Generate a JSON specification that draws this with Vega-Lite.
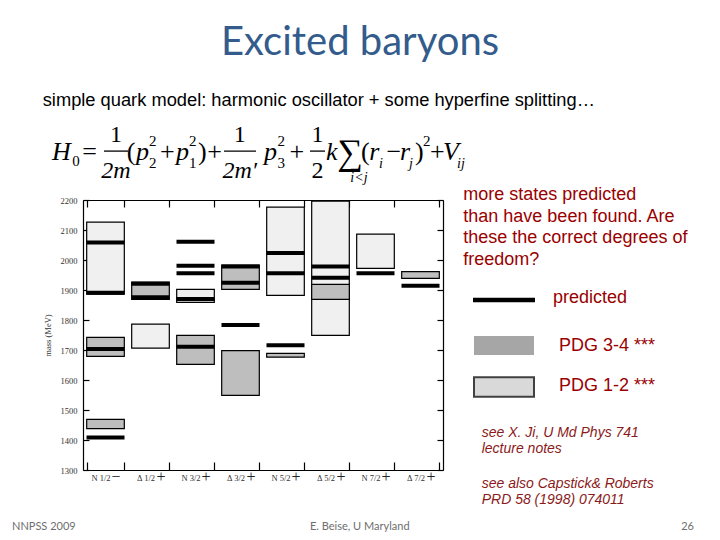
{
  "$schema": "https://vega.github.io/schema/vega-lite/v6.json",
  "width": 360,
  "height": 270,
  "autosize": {"type": "none"},
  "padding": {"left": 83, "top": 200, "right": 277, "bottom": 70},
  "background": "white",
  "config": {
    "view": {"stroke": null},
    "axis": {
      "domainColor": "black", "tickColor": "black", "domainWidth": 1.2, "tickWidth": 1.2,
      "grid": false, "labelFont": "Liberation Serif", "labelFontSize": 8.5, "labelColor": "#333333",
      "titleFont": "Liberation Serif", "titleFontSize": 8.5, "titleFontWeight": "normal", "titleColor": "#333333"
    }
  },
  "datasets": {
    "boxes": [
      {"cat": "N 1/2", "lo": 1886, "hi": 2126, "type": "PDG 1-2 ***"},
      {"cat": "N 1/2", "lo": 1679, "hi": 1742, "type": "PDG 3-4 ***"},
      {"cat": "N 1/2", "lo": 1438, "hi": 1469, "type": "PDG 3-4 ***"},
      {"cat": "Δ 1/2", "lo": 1869, "hi": 1926, "type": "PDG 3-4 ***"},
      {"cat": "Δ 1/2", "lo": 1706, "hi": 1786, "type": "PDG 1-2 ***"},
      {"cat": "N 3/2", "lo": 1859, "hi": 1902, "type": "PDG 1-2 ***"},
      {"cat": "N 3/2", "lo": 1652, "hi": 1749, "type": "PDG 3-4 ***"},
      {"cat": "Δ 3/2", "lo": 1902, "hi": 1983, "type": "PDG 3-4 ***"},
      {"cat": "Δ 3/2", "lo": 1549, "hi": 1698, "type": "PDG 3-4 ***"},
      {"cat": "N 5/2", "lo": 1882, "hi": 2176, "type": "PDG 1-2 ***"},
      {"cat": "N 5/2", "lo": 1676, "hi": 1689, "type": "PDG 3-4 ***"},
      {"cat": "Δ 5/2", "lo": 1749, "hi": 2196, "type": "PDG 1-2 ***"},
      {"cat": "Δ 5/2", "lo": 1869, "hi": 1919, "type": "PDG 3-4 ***"},
      {"cat": "N 7/2", "lo": 1972, "hi": 2086, "type": "PDG 1-2 ***"},
      {"cat": "Δ 7/2", "lo": 1939, "hi": 1961, "type": "PDG 3-4 ***"}
    ],
    "predicted": [
      {"cat": "N 1/2", "mass": 2058},
      {"cat": "N 1/2", "mass": 1891},
      {"cat": "N 1/2", "mass": 1703},
      {"cat": "N 1/2", "mass": 1408},
      {"cat": "Δ 1/2", "mass": 1921},
      {"cat": "Δ 1/2", "mass": 1876},
      {"cat": "N 3/2", "mass": 2061},
      {"cat": "N 3/2", "mass": 1981},
      {"cat": "N 3/2", "mass": 1956},
      {"cat": "N 3/2", "mass": 1870},
      {"cat": "N 3/2", "mass": 1711},
      {"cat": "Δ 3/2", "mass": 1978},
      {"cat": "Δ 3/2", "mass": 1924},
      {"cat": "Δ 3/2", "mass": 1783},
      {"cat": "N 5/2", "mass": 2023},
      {"cat": "N 5/2", "mass": 1956},
      {"cat": "N 5/2", "mass": 1716},
      {"cat": "Δ 5/2", "mass": 1978},
      {"cat": "Δ 5/2", "mass": 1941},
      {"cat": "N 7/2", "mass": 1956},
      {"cat": "Δ 7/2", "mass": 1914}
    ],
    "labels": [
      {"cat": "N 1/2", "sign": "−", "spos": 1278, "lpos": 1263},
      {"cat": "Δ 1/2", "sign": "+", "spos": 1278, "lpos": 1263},
      {"cat": "N 3/2", "sign": "+", "spos": 1278, "lpos": 1263},
      {"cat": "Δ 3/2", "sign": "+", "spos": 1278, "lpos": 1263},
      {"cat": "N 5/2", "sign": "+", "spos": 1278, "lpos": 1263},
      {"cat": "Δ 5/2", "sign": "+", "spos": 1278, "lpos": 1263},
      {"cat": "N 7/2", "sign": "+", "spos": 1278, "lpos": 1263},
      {"cat": "Δ 7/2", "sign": "+", "spos": 1278, "lpos": 1263}
    ]
  },
  "resolve": {"scale": {"x": "independent"}, "axis": {"x": "independent", "y": "independent"}},
  "layer": [
    {
      "data": {"name": "boxes"},
      "mark": {"type": "rect", "stroke": "black", "strokeWidth": 1.2},
      "encoding": {
        "x": {
          "field": "cat", "type": "nominal", "sort": null,
          "scale": {"domain": ["N 1/2", "Δ 1/2", "N 3/2", "Δ 3/2", "N 5/2", "Δ 5/2", "N 7/2", "Δ 7/2"], "paddingInner": 0.164, "paddingOuter": 0.082},
          "axis": {"orient": "bottom", "title": null, "tickBand": "extent", "tickSize": -8, "labels": false}
        },
        "y": {
          "field": "lo", "type": "quantitative",
          "scale": {"domain": [1300, 2200], "nice": false, "zero": false},
          "axis": {"orient": "left", "title": "mass (MeV)", "values": [1300, 1400, 1500, 1600, 1700, 1800, 1900, 2000, 2100, 2200], "format": "d", "labelOverlap": false, "labelBound": false, "tickSize": -6, "labelPadding": 12, "titlePadding": 8}
        },
        "y2": {"field": "hi"},
        "color": {
          "field": "type", "type": "nominal",
          "scale": {"domain": ["PDG 3-4 ***", "PDG 1-2 ***"], "range": ["#BEBEBE", "#F0F0F0"]},
          "legend": null
        }
      }
    },
    {
      "data": {"name": "predicted"},
      "mark": {"type": "tick", "thickness": 4, "size": 38, "color": "#000000", "opacity": 1},
      "encoding": {
        "x": {
          "field": "cat", "type": "nominal", "sort": null,
          "scale": {"domain": ["N 1/2", "Δ 1/2", "N 3/2", "Δ 3/2", "N 5/2", "Δ 5/2", "N 7/2", "Δ 7/2"], "paddingInner": 0.164, "paddingOuter": 0.082},
          "axis": {"orient": "top", "title": null, "labels": false, "tickBand": "extent", "tickSize": -7}
        },
        "y": {
          "field": "mass", "type": "quantitative",
          "scale": {"domain": [1300, 2200], "nice": false, "zero": false},
          "axis": {"orient": "right", "title": null, "labels": false, "values": [1300, 1400, 1500, 1600, 1700, 1800, 1900, 2000, 2100, 2200], "tickSize": -6}
        }
      }
    },
    {
      "data": {"name": "labels"},
      "encoding": {
        "x": {"field": "cat", "type": "nominal", "sort": null, "axis": null,
          "scale": {"domain": ["N 1/2", "Δ 1/2", "N 3/2", "Δ 3/2", "N 5/2", "Δ 5/2", "N 7/2", "Δ 7/2"], "paddingInner": 0.164, "paddingOuter": 0.082}}
      },
      "layer": [
        {
          "mark": {"type": "text", "font": "Liberation Serif", "fontSize": 16, "dx": 10.5, "baseline": "middle", "align": "center", "color": "#222222"},
          "encoding": {
            "y": {"field": "spos", "type": "quantitative", "axis": null, "scale": {"domain": [1300, 2200], "nice": false, "zero": false}},
            "text": {"field": "sign"}
          }
        },
        {
          "mark": {"type": "text", "font": "Liberation Serif", "fontSize": 8.5, "dx": -4.5, "baseline": "alphabetic", "align": "center", "color": "#333333"},
          "encoding": {
            "y": {"field": "lpos", "type": "quantitative", "axis": null, "scale": {"domain": [1300, 2200], "nice": false, "zero": false}},
            "text": {"field": "cat"}
          }
        }
      ]
    },
    {
      "encoding": {
        "x": {"field": "x", "type": "quantitative", "scale": {"domain": [0, 8], "nice": false, "zero": false}, "axis": null},
        "y": {"field": "y", "type": "quantitative", "scale": {"domain": [1300, 2200], "nice": false, "zero": false}, "axis": null},
        "text": {"field": "t"}
      },
      "layer": [
        {
          "data": {"values": [{"t": "Excited baryons", "x": 6.156, "y": 2683}]},
          "mark": {"type": "text", "font": "Lato", "fontSize": 40, "align": "center", "baseline": "alphabetic", "color": "#335C8C"}
        },
        {
          "data": {"values": [{"t": "simple quark model: harmonic oscillator + some hyperfine splitting…", "x": -0.8956, "y": 2513}]},
          "mark": {"type": "text", "font": "Liberation Sans", "fontSize": 18.3, "align": "left", "baseline": "alphabetic", "color": "#000000"}
        },
        {
          "data": {"values": [{"t": ["more states predicted", "than have been found. Are", "these the correct degrees of", "freedom?"], "x": 8.451, "y": 2200}]},
          "mark": {"type": "text", "font": "Liberation Sans", "fontSize": 18, "lineHeight": 21.7, "align": "left", "baseline": "alphabetic", "color": "#990000"}
        },
        {
          "data": {"values": [
            {"t": "predicted", "x": 10.444, "y": 1857},
            {"t": "PDG 3-4 ***", "x": 10.578, "y": 1697},
            {"t": "PDG 1-2 ***", "x": 10.578, "y": 1563}
          ]},
          "mark": {"type": "text", "font": "Liberation Sans", "fontSize": 18, "align": "left", "baseline": "alphabetic", "color": "#990000"}
        },
        {
          "data": {"values": [{"x": 8.667, "x2": 10.044, "y": 1866.7}]},
          "mark": {"type": "rule", "color": "#000000", "strokeWidth": 4.5},
          "encoding": {"x2": {"field": "x2"}, "text": null}
        },
        {
          "data": {"values": [{"x": 8.689, "x2": 10.022, "y": 1746.7, "y2": 1683.3}]},
          "mark": {"type": "rect", "fill": "#A6A6A6"},
          "encoding": {"x2": {"field": "x2"}, "y2": {"field": "y2"}, "text": null}
        },
        {
          "data": {"values": [{"x": 8.689, "x2": 10.022, "y": 1609, "y2": 1544.3}]},
          "mark": {"type": "rect", "fill": "#D9D9D9", "stroke": "#404040", "strokeWidth": 2},
          "encoding": {"x2": {"field": "x2"}, "y2": {"field": "y2"}, "text": null}
        },
        {
          "data": {"values": [
            {"t": ["see X. Ji, U Md Phys 741", "lecture notes"], "x": 8.86, "y": 1411},
            {"t": ["see also Capstick& Roberts", "PRD 58 (1998) 074011"], "x": 8.86, "y": 1241}
          ]},
          "mark": {"type": "text", "font": "Liberation Sans", "fontSize": 14, "fontStyle": "italic", "lineHeight": 16, "align": "left", "baseline": "alphabetic", "color": "#8B1A1A"}
        },
        {
          "data": {"values": [
            {"t": "NNPSS 2009", "x": -1.578, "y": 1100},
            {"t": "E. Beise, U Maryland", "x": 5.044, "y": 1100}
          ]},
          "mark": {"type": "text", "font": "Lato", "fontSize": 11, "align": "left", "baseline": "alphabetic", "color": "#6E6E6E"}
        },
        {
          "data": {"values": [{"t": "26", "x": 13.578, "y": 1100}]},
          "mark": {"type": "text", "font": "Lato", "fontSize": 11, "align": "right", "baseline": "alphabetic", "color": "#6E6E6E"}
        },
        {
          "data": {"values": [
            {"t": "H", "x": -0.689, "y": 2333},
            {"t": "p", "x": 1.178, "y": 2333},
            {"t": "p", "x": 2.067, "y": 2333},
            {"t": "p", "x": 4.02, "y": 2333},
            {"t": "k", "x": 5.398, "y": 2333},
            {"t": "r", "x": 6.36, "y": 2333},
            {"t": "r", "x": 7.044, "y": 2333},
            {"t": "V", "x": 8.0, "y": 2333}
          ]},
          "mark": {"type": "text", "font": "Liberation Serif", "fontSize": 26, "fontStyle": "italic", "align": "left", "baseline": "alphabetic", "color": "#000000"}
        },
        {
          "data": {"values": [
            {"t": "=", "x": -0.016, "y": 2333},
            {"t": "(", "x": 0.973, "y": 2333},
            {"t": "+", "x": 1.711, "y": 2333},
            {"t": ")", "x": 2.556, "y": 2333},
            {"t": "+", "x": 2.76, "y": 2333},
            {"t": "+", "x": 4.591, "y": 2333},
            {"t": "(", "x": 6.178, "y": 2333},
            {"t": "−", "x": 6.745, "y": 2333},
            {"t": ")", "x": 7.378, "y": 2333},
            {"t": "+", "x": 7.711, "y": 2333}
          ]},
          "mark": {"type": "text", "font": "Liberation Serif", "fontSize": 26, "align": "left", "baseline": "alphabetic", "color": "#000000"}
        },
        {
          "data": {"values": [{"t": "∑", "x": 5.65, "y": 2320}]},
          "mark": {"type": "text", "font": "Liberation Serif", "fontSize": 36, "align": "left", "baseline": "alphabetic", "color": "#000000"}
        },
        {
          "data": {"values": [
            {"t": "1", "x": 0.731, "y": 2393},
            {"t": "1", "x": 3.482, "y": 2393},
            {"t": "1", "x": 5.209, "y": 2393},
            {"t": "2", "x": 5.209, "y": 2273}
          ]},
          "mark": {"type": "text", "font": "Liberation Serif", "fontSize": 24, "align": "center", "baseline": "alphabetic", "color": "#000000"}
        },
        {
          "data": {"values": [
            {"t": "2m", "x": 0.731, "y": 2273},
            {"t": "2m′", "x": 3.482, "y": 2273}
          ]},
          "mark": {"type": "text", "font": "Liberation Serif", "fontSize": 24, "fontStyle": "italic", "align": "center", "baseline": "alphabetic", "color": "#000000"}
        },
        {
          "data": {"values": [
            {"t": "0", "x": -0.238, "y": 2313},
            {"t": "2", "x": 1.467, "y": 2380},
            {"t": "2", "x": 1.467, "y": 2307},
            {"t": "2", "x": 2.356, "y": 2380},
            {"t": "1", "x": 2.356, "y": 2307},
            {"t": "2", "x": 4.322, "y": 2380},
            {"t": "3", "x": 4.322, "y": 2307},
            {"t": "2", "x": 7.556, "y": 2380}
          ]},
          "mark": {"type": "text", "font": "Liberation Serif", "fontSize": 15, "align": "left", "baseline": "alphabetic", "color": "#000000"}
        },
        {
          "data": {"values": [
            {"t": "i<j", "x": 5.94, "y": 2260},
            {"t": "i", "x": 6.578, "y": 2307},
            {"t": "j", "x": 7.244, "y": 2307},
            {"t": "ij", "x": 8.311, "y": 2307}
          ]},
          "mark": {"type": "text", "font": "Liberation Serif", "fontSize": 14, "fontStyle": "italic", "align": "left", "baseline": "alphabetic", "color": "#000000"}
        },
        {
          "data": {"values": [
            {"x": 0.467, "x2": 1.0, "y": 2363},
            {"x": 3.133, "x2": 3.844, "y": 2363},
            {"x": 5.044, "x2": 5.378, "y": 2363}
          ]},
          "mark": {"type": "rule", "color": "#000000", "strokeWidth": 1.3},
          "encoding": {"x2": {"field": "x2"}, "text": null}
        }
      ]
    }
  ]
}
